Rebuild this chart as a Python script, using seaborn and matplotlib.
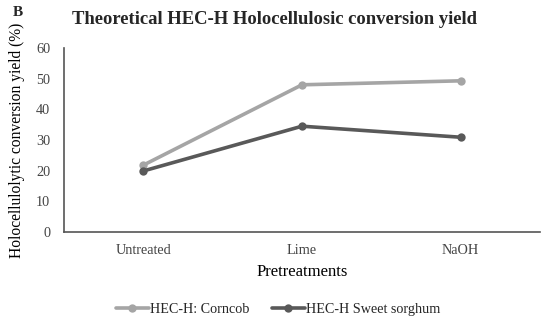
import matplotlib
matplotlib.use("Agg")
import matplotlib.pyplot as plt
import pandas as pd
import seaborn as sns

pretreatments = ["Untreated", "Lime", "NaOH"]
corncob = [21.8, 48.0, 49.3]
sorghum = [19.9, 34.5, 30.9]
series_names = ["HEC-H: Corncob", "HEC-H Sweet sorghum"]
yticks = [0, 10, 20, 30, 40, 50, 60]

df = pd.DataFrame({
    "Pretreatments": pretreatments * 2,
    "yield": corncob + sorghum,
    "series": [series_names[0]] * 3 + [series_names[1]] * 3,
})

sns.set_theme(style="white")
plt.rcParams["font.family"] = ["Liberation Serif", "DejaVu Serif"]

fig = plt.figure(figsize=(5.5, 3.24), dpi=100)
ax = fig.add_axes([64 / 550, 1 - 232 / 324, 476 / 550, 184 / 324])

palette = {series_names[0]: "#a5a5a5", series_names[1]: "#595959"}
sns.lineplot(data=df, x="Pretreatments", y="yield", hue="series", palette=palette,
             marker="o", markersize=6, markeredgewidth=0, linewidth=2.6,
             sort=False, ax=ax)

ax.set_xlim(-0.5, 2.5)
ax.set_ylim(0, 60)
ax.set_yticks(yticks)
ax.tick_params(axis="both", length=0, labelsize=10.3, colors="#444444")
ax.tick_params(axis="x", pad=9)
ax.tick_params(axis="y", pad=10)
for s in ["top", "right"]:
    ax.spines[s].set_visible(False)
for s in ["left", "bottom"]:
    ax.spines[s].set_color("#555555")
    ax.spines[s].set_linewidth(1.2)

ax.set_xlabel("Pretreatments", fontsize=12, color="black", labelpad=5)
ax.set_ylabel("Holocellulolytic conversion yield (%)", fontsize=11.2, color="black", labelpad=8)

ax.legend(loc="center", bbox_to_anchor=(0.45, -0.42), ncol=2, frameon=False,
          fontsize=10.2, handlelength=2.3, columnspacing=1.6, handletextpad=0.1)

fig.text(13 / 550, 1 - 13 / 324, "B", fontsize=11, fontweight="bold", va="center")
fig.text(275 / 550, 1 - 19 / 324, "Theoretical HEC-H Holocellulosic conversion yield",
         fontsize=13.4, fontweight="bold", ha="center", va="center")

fig.savefig("out.png", dpi=100)
